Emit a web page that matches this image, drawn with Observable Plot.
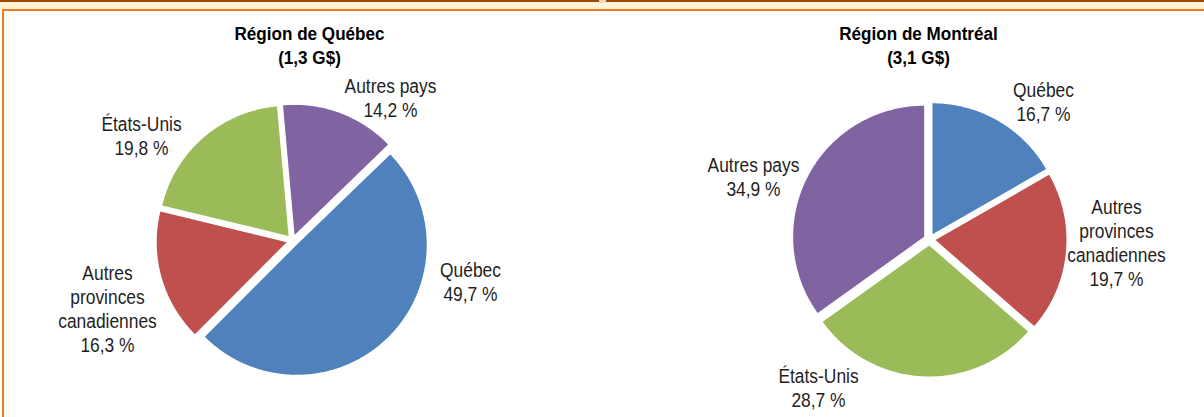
<!DOCTYPE html>
<html>
<head>
<meta charset="utf-8">
<script src="https://cdn.jsdelivr.net/npm/d3@7"></script>
<script src="https://cdn.jsdelivr.net/npm/@observablehq/plot@0.6"></script>
<style>
  html, body { margin: 0; padding: 0; background: #fff; }
  #page { position: relative; width: 1204px; height: 417px; overflow: hidden; font-family: "Liberation Sans", Arial, sans-serif; }
  #band { position: absolute; left: 0; top: 0; width: 1204px; height: 7px; border-top: 2px solid #9a4c06; background: #fff2d6; }
  #tab { position: absolute; left: 599px; top: 0; width: 7px; height: 3px; background: #f1d6c2; }
  #frame { position: absolute; left: 2px; top: 9px; width: 1202px; height: 408px; border-top: 2px solid #f07d1c; border-left: 2px solid #f07d1c; box-sizing: border-box; }
  #chart { position: absolute; left: 0; top: 0; }
</style>
</head>
<body>
<div id="page">
  <div id="band"></div>
  <div id="tab"></div>
  <div id="frame"></div>
  <div id="chart"></div>
</div>
<script>
// ---- Data ----
const categories = ["Québec", "Autres provinces canadiennes", "États-Unis", "Autres pays"];
const categoryLabels = ["Québec", "Autres\nprovinces\ncanadiennes", "États-Unis", "Autres pays"];
const regionQuebec = [49.7, 16.3, 19.8, 14.2];
const regionMontreal = [16.7, 19.7, 28.7, 34.9];
const pieTitles = ["Région de Québec", "Région de Montréal"];
const pieTotals = ["(1,3 G$)", "(3,1 G$)"];

// ---- Styles / layout (kept apart from the data) ----
const colors = ["#4f81bd", "#c0504d", "#9bbb59", "#8064a2"];
const pies = [
  {cx: 292, cy: 240, r: 130, explode: 6, start: 46, titleX: 309,
   labels: [[470, 274], [107, 277], [141, 128], [390, 90]]},
  {cx: 929, cy: 239, r: 131, explode: 6, start: 0, titleX: 918,
   labels: [[1043, 94], [1116, 211], [818, 380], [753, 169]]}
];
const titleBaseline = 36;
const labelSize = 20, labelLH = 24 / 20, labelCondense = 0.87;
const titleSize = 19, titleLH = 24 / 19, titleCondense = 0.9;

const series = [regionQuebec, regionMontreal];

const slicePts = [];
const labelRows = [];
const titleRows = [];
series.forEach((vals, p) => {
  const L = pies[p];
  const s0 = L.start * Math.PI / 180;
  const arcs = d3.pie().sort(null).startAngle(s0).endAngle(s0 + 2 * Math.PI)(vals);
  arcs.forEach((a, i) => {
    const mid = (a.startAngle + a.endAngle) / 2;
    const ox = L.cx + L.explode * Math.sin(mid);
    const oy = L.cy - L.explode * Math.cos(mid);
    const id = p + "-" + i;
    slicePts.push({id, color: colors[i], x: ox, y: oy});
    const n = Math.max(2, Math.ceil((a.endAngle - a.startAngle) / (Math.PI / 360)));
    for (let k = 0; k <= n; k++) {
      const t = a.startAngle + (a.endAngle - a.startAngle) * k / n;
      slicePts.push({id, color: colors[i], x: ox + L.r * Math.sin(t), y: oy - L.r * Math.cos(t)});
    }
    const [lx, ly] = L.labels[i];
    labelRows.push({
      text: categoryLabels[i] + "\n" + vals[i].toFixed(1).replace(".", ",") + " %",
      x: lx, y: ly - 0.71 * labelSize
    });
  });
  titleRows.push({text: pieTitles[p] + "\n" + pieTotals[p], x: L.titleX, y: titleBaseline - 0.71 * titleSize});
});

const chart = Plot.plot({
  width: 1204,
  height: 417,
  margin: 0,
  x: {domain: [0, 1204], range: [0, 1204], axis: null},
  y: {domain: [0, 417], range: [0, 417], axis: null},
  style: {background: "transparent", fontFamily: "'Liberation Sans', Arial, sans-serif"},
  marks: [
    Plot.line(slicePts, {x: "x", y: "y", z: "id", fill: "color", stroke: "none", curve: "linear-closed"}),
    Plot.text(labelRows, {x: "x", y: "y", text: "text", fontSize: labelSize, lineHeight: labelLH,
      lineAnchor: "top", textAnchor: "middle", fill: "#1f1f1f", className: "lbl"}),
    Plot.text(titleRows, {x: "x", y: "y", text: "text", fontSize: titleSize, lineHeight: titleLH,
      lineAnchor: "top", textAnchor: "middle", fontWeight: "bold", fill: "#000", className: "ttl"})
  ]
});
// condensed look of the original typeface
chart.querySelectorAll("g.lbl text").forEach(t => {
  t.setAttribute("transform", (t.getAttribute("transform") || "") + ` scale(${labelCondense},1)`);
});
chart.querySelectorAll("g.ttl text").forEach(t => {
  t.setAttribute("transform", (t.getAttribute("transform") || "") + ` scale(${titleCondense},1)`);
});
document.getElementById("chart").appendChild(chart);
</script>
</body>
</html>
